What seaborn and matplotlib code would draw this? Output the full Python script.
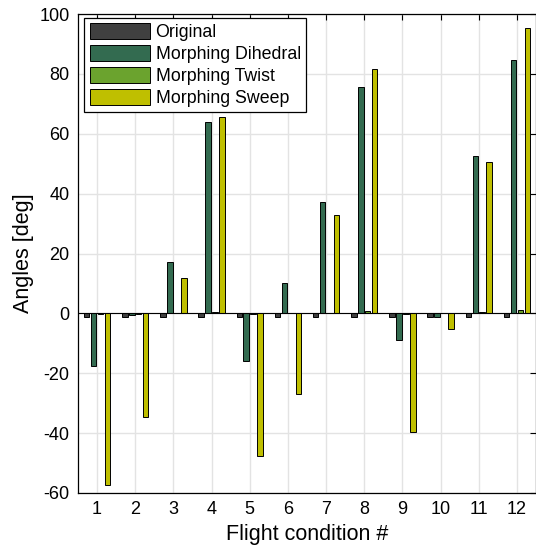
import numpy as np
import pandas as pd
import matplotlib
matplotlib.use("Agg")
import matplotlib.pyplot as plt
import seaborn as sns

sns.set_theme(style="white")
plt.rcParams['font.family'] = ['Liberation Sans', 'DejaVu Sans']
plt.rcParams['axes.unicode_minus'] = False
plt.rcParams['text.color'] = 'black'
plt.rcParams['axes.labelcolor'] = 'black'
plt.rcParams['xtick.color'] = 'black'
plt.rcParams['ytick.color'] = 'black'

conditions = [str(i) for i in range(1, 13)]
series = ["Original", "Morphing Dihedral", "Morphing Twist", "Morphing Sweep"]
original = [-1.2, -1.2, -1.2, -1.2, -1.2, -1.2, -1.2, -1.2, -1.2, -1.2, -1.2, -1.2]
dihedral = [-17.7, -0.5, 17.0, 64.0, -16.0, 10.3, 37.3, 75.6, -9.0, -1.2, 52.5, 84.6]
twist = [-0.2, -0.3, 0.0, 0.3, -0.2, 0.0, 0.0, 0.7, -0.3, 0.0, 0.4, 1.0]
sweep = [-57.3, -34.5, 11.7, 65.5, -47.8, -27.0, 32.8, 81.6, -39.5, -5.3, 50.5, 95.3]
colors = ["#404040", "#336b50", "#6ba32e", "#bfbf00"]

df = pd.DataFrame({
    "cond": conditions * 4,
    "angle": original + dihedral + twist + sweep,
    "series": np.repeat(series, len(conditions)),
})

fig = plt.figure(figsize=(5.36, 5.52), dpi=100)
ax = fig.add_axes([0.1455, 0.107, 0.8545, 0.8675])

sns.barplot(data=df, x="cond", y="angle", hue="series", hue_order=series,
            palette=colors, saturation=1, width=0.727, gap=0.2,
            edgecolor="black", linewidth=0.7, ax=ax, zorder=3)

ax.set_xlim(-0.5, 11.5)
ax.set_ylim(-60, 100)
ax.set_yticks(range(-60, 101, 20))
ax.axhline(0, color="black", lw=0.8, zorder=4)
ax.grid(True, color="#e3e3e3", lw=1.0, zorder=0)
ax.set_axisbelow(True)
ax.tick_params(direction="in", top=True, right=True, length=4, width=0.8,
               labelsize=13, color="black", pad=6)
for s in ax.spines.values():
    s.set_color("black")
    s.set_linewidth(0.9)
ax.set_xlabel("Flight condition #", fontsize=15.5, labelpad=4)
ax.set_ylabel("Angles [deg]", fontsize=15.5, labelpad=4)

leg = ax.legend(loc="upper left", bbox_to_anchor=(0.014, 0.992), fontsize=12.8,
                frameon=True, fancybox=False, edgecolor="black", framealpha=1,
                handlelength=3.4, handleheight=1.0, handletextpad=0.3,
                labelspacing=0.22, borderpad=0.3, borderaxespad=0)
leg.get_frame().set_linewidth(0.9)
for h in leg.legend_handles:
    h.set_edgecolor("black")

fig.savefig("out.png", dpi=100)
